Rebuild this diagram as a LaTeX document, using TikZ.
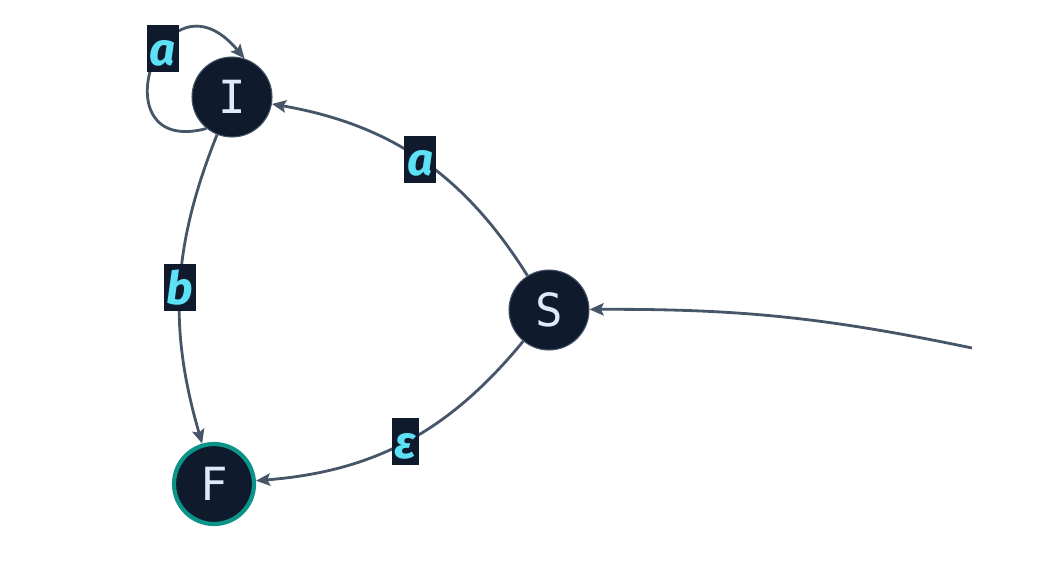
\documentclass[tikz,border=0pt]{standalone}
\usepackage{fontspec}
\usetikzlibrary{arrows.meta}
\newfontfamily\statefont{DejaVu Sans Mono}
\newfontfamily\symfont{Fira Sans}
\definecolor{navy}{HTML}{0F1B2D}
\definecolor{slate}{HTML}{475569}
\definecolor{cyanlbl}{HTML}{5DE1F6}
\definecolor{paleblue}{HTML}{DBEAFE}
\definecolor{tealring}{HTML}{0D9488}
\tikzset{
  state/.style={draw=slate, line width=0.6pt, circle, fill=navy, text=paleblue,
                minimum size=1.6cm, inner sep=0pt, font=\statefont\fontsize{26}{26}\selectfont},
  accepting/.style={draw=tealring, line width=2.4pt},
  sym/.style={fill=navy, text=cyanlbl, inner xsep=1.5pt, inner ysep=0pt,
              text height=0.8cm, text depth=0.14cm,
              font=\symfont\bfseries\itshape\fontsize{26}{26}\selectfont},
}
\begin{document}
\begin{tikzpicture}[>={Stealth[length=8pt,width=7pt,inset=1.5pt]}, line width=1.6pt, draw=slate]
    \useasboundingbox (0,0) rectangle (20.96,11.36);

    % Zustaende
    \node[state] (I) at (4.64,9.42) {I};
    \node[state] (S) at (10.98,5.16) {S};
    \node[state, accepting] (F) at (4.28,1.68) {F};
    \coordinate (start) at (19.44,4.4);

    % Uebergaenge
    \draw[->, slate] (start) to[bend right=6] (S);
    \draw[->, slate] (S) to[bend right=24] node[midway, sym] {a} (I);
    \draw[->, slate] (I) to[bend right=19] node[midway, sym] {b} (F);
    \draw[->, slate] (S) to[bend left=23] node[midway, sym] {ε} (F);
    \draw[->, slate] (I.231) .. controls +(195:2.3) and +(130:2.6) .. (I.72)
                     node[pos=0.6, sym] {a};

\end{tikzpicture}
\end{document}
